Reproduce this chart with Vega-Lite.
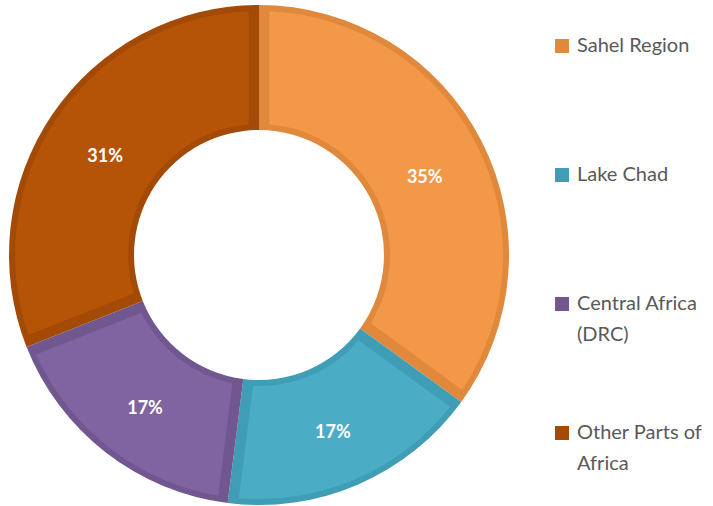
{
  "$schema": "https://vega.github.io/schema/vega-lite/v6.json",
  "width": 518,
  "height": 502,
  "autosize": {"type": "none"},
  "padding": {"left": 0, "top": 4, "right": 195, "bottom": 0},
  "background": "white",
  "config": {"view": {"stroke": null}, "font": "Lato", "style": {"guide-label": {"lineHeight": 31}}},
  "data": {
    "values": [
      {"region": "Sahel Region", "share": 35, "label": "35%", "order": 1},
      {"region": "Lake Chad", "share": 17, "label": "17%", "order": 2},
      {"region": "Central Africa (DRC)", "share": 17, "label": "17%", "order": 3},
      {"region": "Other Parts of Africa", "share": 31, "label": "31%", "order": 4}
    ]
  },
  "encoding": {
    "theta": {"field": "share", "type": "quantitative", "stack": true},
    "order": {"field": "order", "type": "quantitative"}
  },
  "layer": [
    {
      "mark": {"type": "arc", "outerRadius": 250, "innerRadius": 125},
      "encoding": {
        "color": {
          "field": "region",
          "type": "nominal",
          "sort": ["Sahel Region", "Lake Chad", "Central Africa (DRC)", "Other Parts of Africa"],
          "scale": {
            "domain": ["Sahel Region", "Lake Chad", "Central Africa (DRC)", "Other Parts of Africa"],
            "range": ["#E0893C", "#3F9DB5", "#71578F", "#A24A06"]
          },
          "legend": {
            "orient": "none",
            "legendX": 552,
            "legendY": 32,
            "title": null,
            "symbolType": "square",
            "symbolSize": 196,
            "symbolStrokeWidth": 0,
            "labelFont": "Lato",
            "labelFontSize": 20,
            "labelColor": "#595959",
            "labelLimit": 200,
            "labelExpr": "datum.label == 'Central Africa (DRC)' ? ['Central Africa', '(DRC)'] : datum.label == 'Other Parts of Africa' ? ['Other Parts of', 'Africa'] : datum.label == 'Sahel Region' ? '\u2002Sahel Region' : datum.label",
            "gridAlign": "all",
            "rowPadding": 78,
            "labelOffset": 5
          }
        }
      }
    },
    {
      "mark": {"type": "arc", "outerRadius": 244, "innerRadius": 131, "padAngle": 0.075},
      "encoding": {
        "color": {
          "field": "region",
          "type": "nominal",
          "scale": {
            "domain": ["Sahel Region", "Lake Chad", "Central Africa (DRC)", "Other Parts of Africa"],
            "range": ["#F39748", "#4BACC6", "#8064A2", "#B55407"]
          },
          "legend": null
        }
      }
    },
    {
      "mark": {"type": "text", "radius": 186, "dy": 7, "fontSize": 18, "fontWeight": "bold", "color": "white", "font": "Lato"},
      "encoding": {"text": {"field": "label"}}
    }
  ],
  "resolve": {"scale": {"color": "independent"}}
}
